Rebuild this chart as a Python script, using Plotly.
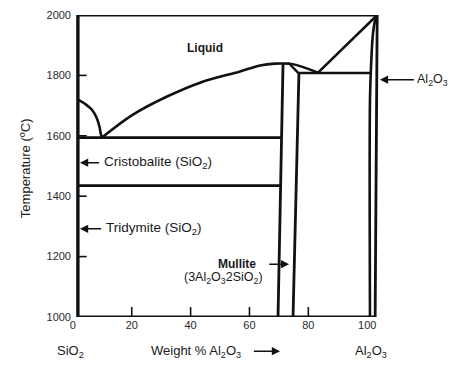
import plotly.graph_objects as go

# ---- phase-diagram data (wt% Al2O3, temperature in degC) ----
SIO2_X, AL2O3_X = 1.7, 103.4          # pure-component boundaries as drawn
T_MIN, T_MAX = 1000, 2000

SIO2_LIQ_X = [1.7, 4.1, 6.4, 8.1, 9.0, 9.55, 9.9]
SIO2_LIQ_T = [1720, 1706, 1687, 1659, 1631, 1604, 1594]

MULLITE_LIQ_X = [9.9, 20.4, 32.0, 43.2, 56.8, 63.6, 68.7, 73.8]
MULLITE_LIQ_T = [1594, 1670, 1730, 1776, 1813, 1833, 1839, 1839]

LENS_UP_X = [73.8, 77.2, 80.6, 83.3]
LENS_UP_T = [1839, 1831, 1819, 1809]
LENS_LO_X = [73.8, 76.8]
LENS_LO_T = [1836, 1806]

AL2O3_LIQ_X = [83.3, 103.4]
AL2O3_LIQ_T = [1809, 2000]

MULLITE_L_X = [71.4, 69.7]
MULLITE_L_T = [1838, 1000]
MULLITE_R_X = [76.8, 74.8]
MULLITE_R_T = [1806, 1000]

EUTECTIC_T = 1594
EUTECTIC_X = [1.7, 70.9]
CRIST_TRID_T = 1435
CRIST_TRID_X = [1.7, 70.6]
MUL_AL_EUT_T = 1808
MUL_AL_EUT_X = [76.8, 100.95]

AL2O3_SOL_X = [103.0, 102.0, 101.3, 100.95, 100.95]
AL2O3_SOL_T = [2000, 1942, 1829, 1720, 1000]
AL2O3_EDGE_X = [103.4, 102.7]
AL2O3_EDGE_T = [2000, 1000]

X_TICKS = [0, 20, 40, 60, 80, 100]
Y_TICKS = [1000, 1200, 1400, 1600, 1800, 2000]
X_TICK_MARKS = [20, 40, 60, 80]
Y_TICK_MARKS = [1200, 1400, 1600, 1800]

INK = "#111111"
FONT = "Liberation Sans, Arial, sans-serif"

fig = go.Figure()


def line(xs, ts, width=2.2, shape="linear"):
    fig.add_trace(go.Scatter(x=xs, y=ts, mode="lines",
                             line=dict(color=INK, width=width, shape=shape),
                             hoverinfo="skip", showlegend=False))


# frame
line([SIO2_X, AL2O3_X], [T_MAX, T_MAX], 3)
line([SIO2_X, SIO2_X], [T_MIN, T_MAX], 3.4)
line([SIO2_X, AL2O3_EDGE_X[1]], [T_MIN, T_MIN], 3)
line(AL2O3_EDGE_X, AL2O3_EDGE_T, 2.8)
line(AL2O3_SOL_X, AL2O3_SOL_T, 2.6, "spline")

# phase boundaries
line(SIO2_LIQ_X, SIO2_LIQ_T, 2.6, "spline")
line(MULLITE_LIQ_X, MULLITE_LIQ_T, 2.6, "spline")
line(LENS_UP_X, LENS_UP_T, 2.4, "spline")
line(LENS_LO_X, LENS_LO_T, 2.4)
line(AL2O3_LIQ_X, AL2O3_LIQ_T, 2.6)
line(MULLITE_L_X, MULLITE_L_T, 2.8)
line(MULLITE_R_X, MULLITE_R_T, 2.8)
line(EUTECTIC_X, [EUTECTIC_T] * 2, 2.8)
line(CRIST_TRID_X, [CRIST_TRID_T] * 2, 2.6)
line(MUL_AL_EUT_X, [MUL_AL_EUT_T] * 2, 2.6)

# tick marks drawn inside the frame
tx, ty = [], []
for t in X_TICK_MARKS:
    tx += [t, t, None]
    ty += [T_MIN, T_MIN + 33, None]
for t in Y_TICK_MARKS:
    tx += [SIO2_X, SIO2_X + 3, None]
    ty += [t, t, None]
fig.add_trace(go.Scatter(x=tx, y=ty, mode="lines",
                         line=dict(color=INK, width=1.6),
                         hoverinfo="skip", showlegend=False))

ann = []


def text(x, y, s, size=13, anchor="center", bold=False, xref="x", yref="y"):
    if bold:
        s = "<b>" + s + "</b>"
    ann.append(dict(x=x, y=y, xref=xref, yref=yref, text=s, showarrow=False,
                    xanchor=anchor, yanchor="middle",
                    font=dict(family=FONT, size=size, color="#1a1a1a")))


def arrow(x_head, x_tail, y, yref="y"):
    ann.append(dict(x=x_head, y=y, ax=x_tail,
                    ay=(y if yref == "y" else 0), xref="x", yref=yref,
                    axref="x", ayref=("y" if yref == "y" else "pixel"),
                    text="", showarrow=True,
                    arrowhead=2, arrowsize=1.1, arrowwidth=1.5,
                    arrowcolor=INK))


text(44.9, 1892, "Liquid", 12, bold=True)
text(9.9, 1511, "Cristobalite (SiO<sub>2</sub>)", 13.5, "left")
arrow(2.4, 9.4, 1511)
text(10.6, 1292, "Tridymite (SiO<sub>2</sub>)", 13.5, "left")
arrow(2.4, 10.1, 1292)
text(62.9, 1177, "Mullite", 12, "right", bold=True)
text(51.2, 1128, "(3Al<sub>2</sub>O<sub>3</sub>2SiO<sub>2</sub>)", 12.5)
arrow(73.5, 66.2, 1175)
text(116.4, 1786, "Al<sub>2</sub>O<sub>3</sub>", 12.5, "left")
arrow(104.3, 116.4, 1786)

# bottom labels (below the axis)
YB = -0.113
text(-0.003, YB, "SiO<sub>2</sub>", 13, xref="paper", yref="paper")
text(42, YB, "Weight % Al<sub>2</sub>O<sub>3</sub>", 13, yref="paper")
arrow(70.4, 61.0, YB, yref="paper")
text(101.3, YB, "Al<sub>2</sub>O<sub>3</sub>", 13, yref="paper")

# y title
ann.append(dict(x=-0.118, y=0.493, xref="paper", yref="paper",
                text="Temperature (<sup>o</sup>C)", textangle=-90,
                showarrow=False, xanchor="center", yanchor="middle",
                font=dict(family=FONT, size=13, color="#1a1a1a")))

# the page body adds an 8px offset, so the figure is sized to fit the window
fig.update_layout(
    width=466, height=359,
    margin=dict(l=64, r=4, t=7, b=50),
    paper_bgcolor="white", plot_bgcolor="white",
    annotations=ann,
    xaxis=dict(range=[-0.3, 134.93], tickmode="array", tickvals=X_TICKS,
               ticktext=[str(v) for v in X_TICKS], showgrid=False,
               zeroline=False, showline=False, ticks="", automargin=False,
               tickfont=dict(family=FONT, size=11, color="#2a2a2a")),
    yaxis=dict(range=[T_MIN, T_MAX], tickmode="array", tickvals=Y_TICKS,
               ticktext=[str(v) for v in Y_TICKS], showgrid=False,
               zeroline=False, showline=False, ticks="", automargin=False,
               tickfont=dict(family=FONT, size=11, color="#2a2a2a")),
)

fig.write_html("out.html")
